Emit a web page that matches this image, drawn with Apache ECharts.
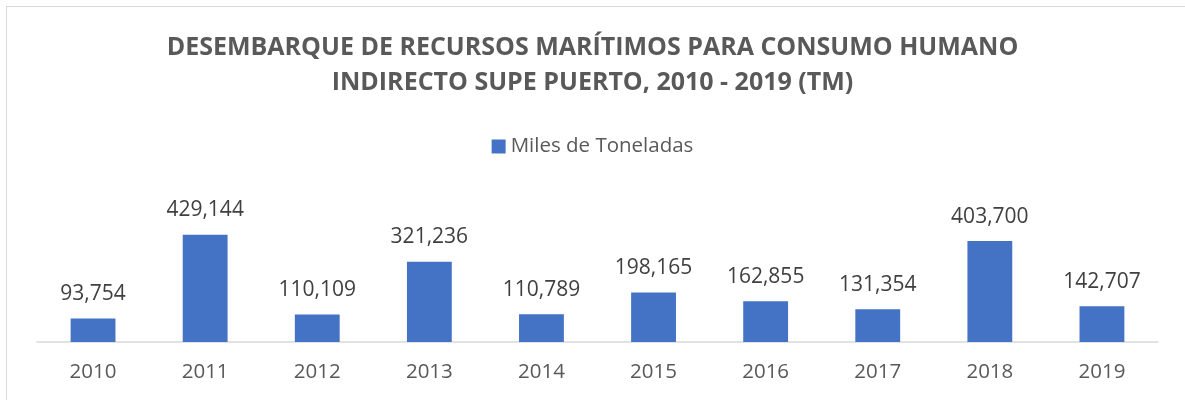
<!DOCTYPE html>
<html><head><meta charset="utf-8">
<script src="https://cdn.jsdelivr.net/npm/echarts@6/dist/echarts.min.js"></script>
<style>html,body{margin:0;padding:0;background:#fff;}
#wrap{position:absolute;left:6px;top:6px;width:1185px;height:400px;border-left:1px solid #d9d9d9;border-top:1px solid #d9d9d9;}
#c{position:absolute;left:0;top:0;width:1185px;height:400px;}</style>
</head><body><div id="wrap"></div><div id="c"></div>
<script>
const categories = ['2010','2011','2012','2013','2014','2015','2016','2017','2018','2019'];
const values = [93754, 429144, 110109, 321236, 110789, 198165, 162855, 131354, 403700, 142707];
const seriesName = 'Miles de Toneladas';
const titleText = 'DESEMBARQUE DE RECURSOS MARÍTIMOS PARA CONSUMO HUMANO\nINDIRECTO SUPE PUERTO, 2010 - 2019 (TM)';

const chart = echarts.init(document.getElementById('c'), null, {renderer:'canvas'});
chart.setOption({
  animation:false,
  title:{text:titleText,left:'center',top:25,
    textStyle:{fontFamily:'Open Sans',fontWeight:'bold',fontSize:25,color:'#595959',lineHeight:35}},
  legend:{top:131,left:'center',itemWidth:14,itemHeight:14,icon:'rect',itemGap:6,
    textStyle:{fontFamily:'Open Sans',fontSize:20.5,color:'#595959'}},
  grid:{left:37,right:27,top:167,bottom:58},
  xAxis:{type:'category',data:categories,
    axisLine:{lineStyle:{color:'#d9d9d9',width:1.5}},axisTick:{show:false},
    axisLabel:{fontFamily:'Open Sans',fontSize:20.5,color:'#595959',margin:20}},
  yAxis:{type:'value',min:0,max:700000,show:false,splitLine:{show:false}},
  series:[{type:'bar',name:seriesName,data:values,barWidth:'40%',
    itemStyle:{color:'#4472C4'},
    label:{show:true,position:'top',distance:14,fontFamily:'Open Sans',fontSize:21,color:'#404040',
      formatter:p=>p.value.toLocaleString('en-US')}}]
});
</script></body></html>
